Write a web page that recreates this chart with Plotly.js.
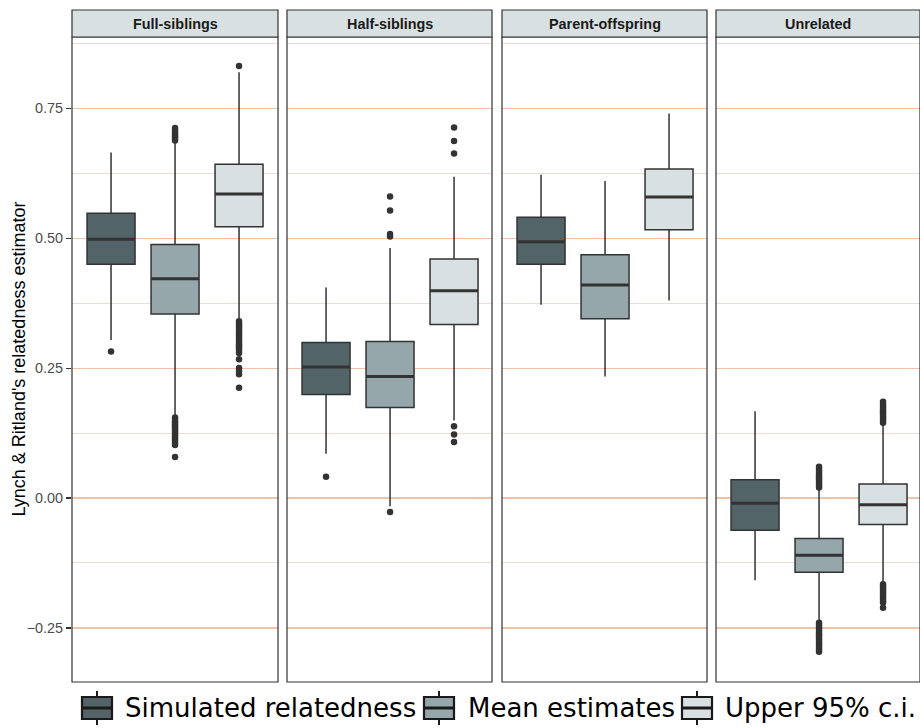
<!DOCTYPE html>
<html>
<head>
<meta charset="utf-8">
<script src="https://cdn.plot.ly/plotly-3.0.1.min.js"></script>
<style>html,body{margin:0;padding:0;background:#fff;}#chart{width:920px;height:728px;}</style>
</head>
<body>
<div id="chart"></div>
<script>
// ---- data ----
const categories = ['Full-siblings', 'Half-siblings', 'Parent-offspring', 'Unrelated'];
const seriesNames = ['Simulated relatedness', 'Mean estimates', 'Upper 95% c.i.'];

const simLower  = [0.304, 0.085, 0.372, -0.158];
const simQ1     = [0.450, 0.199, 0.450, -0.062];
const simMedian = [0.498, 0.252, 0.493, -0.010];
const simQ3     = [0.548, 0.299, 0.540, 0.035];
const simUpper  = [0.665, 0.405, 0.622, 0.167];
const simOutliers = [[0.282], [0.041], [], []];

const meanLower  = [0.157, -0.016, 0.234, -0.237];
const meanQ1     = [0.354, 0.174, 0.345, -0.143];
const meanMedian = [0.422, 0.234, 0.410, -0.110];
const meanQ3     = [0.488, 0.301, 0.468, -0.078];
const meanUpper  = [0.683, 0.481, 0.610, 0.016];
const meanOutliers = [
  [0.688, 0.692, 0.696, 0.700, 0.704, 0.708, 0.712, 0.155, 0.150, 0.146, 0.142, 0.138, 0.134, 0.130, 0.126, 0.122, 0.118, 0.114, 0.110, 0.106, 0.102, 0.079],
  [0.580, 0.553, 0.508, 0.503, -0.027],
  [],
  [0.020, 0.024, 0.028, 0.032, 0.036, 0.040, 0.044, 0.048, 0.052, 0.056, 0.060,
   -0.240, -0.244, -0.248, -0.252, -0.256, -0.260, -0.264, -0.268, -0.272, -0.276, -0.280, -0.284, -0.288, -0.292, -0.296]
];

const upperLower  = [0.346, 0.149, 0.380, -0.163];
const upperQ1     = [0.522, 0.334, 0.516, -0.051];
const upperMedian = [0.585, 0.399, 0.579, -0.013];
const upperQ3     = [0.642, 0.460, 0.633, 0.027];
const upperUpper  = [0.819, 0.618, 0.740, 0.141];
const upperOutliers = [
  [0.831, 0.340, 0.336, 0.332, 0.328, 0.324, 0.320, 0.316, 0.312, 0.308, 0.304, 0.300, 0.296, 0.292, 0.288, 0.284, 0.279, 0.267, 0.250, 0.245, 0.238, 0.212],
  [0.713, 0.687, 0.663, 0.138, 0.122, 0.108],
  [],
  [0.145, 0.149, 0.153, 0.157, 0.161, 0.165, 0.169, 0.173, 0.177, 0.181, 0.185,
   -0.166, -0.170, -0.174, -0.178, -0.182, -0.186, -0.190, -0.194, -0.198, -0.201, -0.211]
];

const tickValues = [-0.25, 0.00, 0.25, 0.50, 0.75];
const tickLabels = ['\u22120.25', '0.00', '0.25', '0.50', '0.75'];
const minorTickValues = [-0.125, 0.125, 0.375, 0.625, 0.875];

// ---- style ----
const fills = ['#536468', '#95a7ab', '#d9e0e2'];
const lineCol = '#333333';
const slots = [1, 2, 3];
const boxW = 0.75;

const series = [
  {lo: simLower, q1: simQ1, med: simMedian, q3: simQ3, hi: simUpper, out: simOutliers},
  {lo: meanLower, q1: meanQ1, med: meanMedian, q3: meanQ3, hi: meanUpper, out: meanOutliers},
  {lo: upperLower, q1: upperQ1, med: upperMedian, q3: upperQ3, hi: upperUpper, out: upperOutliers}
];

// pixel helpers (left margin 72, plot width 848, plot top 37, bottom 682)
const W = 848, H = 645;
const px = x => (x - 72) / W;
const py = y => (682 - y) / H;
const panelPx = [[0, 206], [215, 420], [430, 635], [644, 848]];
const domains = panelPx.map(p => [p[0] / W, p[1] / W]);

const traces = [];
categories.forEach((cat, pi) => {
  const xa = pi === 0 ? 'x' : 'x' + (pi + 1);
  series.forEach((s, si) => {
    traces.push({
      type: 'box', xaxis: xa, yaxis: 'y',
      name: seriesNames[si], showlegend: false,
      x: [slots[si]], q1: [s.q1[pi]], median: [s.med[pi]], q3: [s.q3[pi]],
      lowerfence: [s.lo[pi]], upperfence: [s.hi[pi]],
      width: boxW, whiskerwidth: 0, boxpoints: false,
      fillcolor: fills[si], line: {color: lineCol, width: 1.5},
      hoverinfo: 'skip'
    });
    traces.push({
      type: 'scatter', mode: 'lines', xaxis: xa, yaxis: 'y', showlegend: false,
      x: [slots[si] - boxW / 2, slots[si] + boxW / 2], y: [s.med[pi], s.med[pi]],
      line: {color: lineCol, width: 3}, hoverinfo: 'skip'
    });
    if (s.out[pi].length) {
      traces.push({
        type: 'scatter', mode: 'markers', xaxis: xa, yaxis: 'y', showlegend: false,
        x: s.out[pi].map(() => slots[si]), y: s.out[pi],
        marker: {color: lineCol, size: 6.5}, hoverinfo: 'skip'
      });
    }
  });
});

const layout = {
  width: 920, height: 728,
  margin: {l: 72, r: 0, t: 37, b: 46},
  paper_bgcolor: '#ffffff', plot_bgcolor: '#ffffff',
  showlegend: false,
  font: {family: 'Liberation Sans, Arial, sans-serif', color: '#4d4d4d'},
  yaxis: {
    range: [-0.354, 0.887], tickvals: tickValues, ticktext: tickLabels,
    showgrid: true, gridcolor: '#f1c3a6', gridwidth: 1.1, zeroline: false,
    ticks: 'outside', ticklen: 5, tickcolor: lineCol, tickwidth: 1.1,
    tickfont: {size: 14.4, color: '#4d4d4d'},
    minor: {tickvals: minorTickValues, showgrid: true, gridcolor: '#eedbd2', gridwidth: 1, ticks: ''},
    showline: false
  },
  shapes: [], annotations: []
};

const stripH = 27 / H;
categories.forEach((cat, pi) => {
  const key = pi === 0 ? 'xaxis' : 'xaxis' + (pi + 1);
  const width = panelPx[pi][1] - panelPx[pi][0];
  layout[key] = {
    domain: domains[pi], anchor: 'y',
    range: [0.39, 0.39 + width / 64],
    showgrid: false, zeroline: false, showticklabels: false, ticks: '', showline: false
  };
  layout.shapes.push({
    type: 'rect', xref: 'paper', yref: 'paper', x0: domains[pi][0], x1: domains[pi][1], y0: 0, y1: 1,
    line: {color: lineCol, width: 1.2}, fillcolor: 'rgba(0,0,0,0)', layer: 'above'
  });
  layout.shapes.push({
    type: 'rect', xref: 'paper', yref: 'paper', x0: domains[pi][0], x1: domains[pi][1], y0: 1, y1: 1 + stripH,
    line: {color: lineCol, width: 1.2}, fillcolor: '#d9e0e1', layer: 'above'
  });
  layout.annotations.push({
    xref: 'paper', yref: 'paper', x: (domains[pi][0] + domains[pi][1]) / 2, y: 1 + stripH / 2,
    xanchor: 'center', yanchor: 'middle', showarrow: false, text: '<b>' + cat + '</b>',
    font: {size: 14.4, color: '#1a1a1a', family: 'Liberation Sans, Arial, sans-serif'}
  });
});

// y-axis title
layout.annotations.push({
  xref: 'paper', yref: 'paper', x: px(18), y: 0.5, xanchor: 'center', yanchor: 'middle',
  textangle: -90, showarrow: false, text: "Lynch &amp; Ritland's relatedness estimator",
  font: {size: 18, color: '#000000', family: 'Liberation Sans, Arial, sans-serif'}
});

// custom legend (box-glyph keys)
const legendIconX = [82, 424, 682];
const legendTextX = [123, 466, 723];
seriesNames.forEach((nm, si) => {
  const x0 = legendIconX[si], x1 = x0 + 30, xc = x0 + 15;
  layout.shapes.push({type: 'line', xref: 'paper', yref: 'paper', x0: px(xc), x1: px(xc), y0: py(691), y1: py(725),
    line: {color: '#1a1a1a', width: 2}});
  layout.shapes.push({type: 'rect', xref: 'paper', yref: 'paper', x0: px(x0), x1: px(x1), y0: py(719), y1: py(697),
    fillcolor: fills[si], line: {color: '#1a1a1a', width: 2.2}});
  layout.shapes.push({type: 'line', xref: 'paper', yref: 'paper', x0: px(x0), x1: px(x1), y0: py(708), y1: py(708),
    line: {color: '#1a1a1a', width: 3}});
  layout.annotations.push({
    xref: 'paper', yref: 'paper', x: px(legendTextX[si]), y: py(708), xanchor: 'left', yanchor: 'middle',
    showarrow: false, text: nm,
    font: {size: 26, color: '#000000', family: 'DejaVu Sans, Verdana, sans-serif'}
  });
});

Plotly.newPlot('chart', traces, layout, {displayModeBar: false, staticPlot: true});
</script>
</body>
</html>
